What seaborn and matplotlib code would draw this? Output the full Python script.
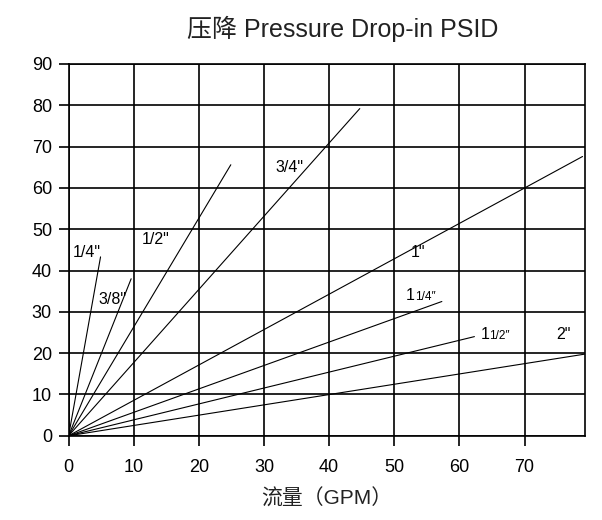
import matplotlib
matplotlib.use("Agg")
import matplotlib.pyplot as plt
import pandas as pd
import seaborn as sns

# pipe sizes and the end point of each pressure-drop line (all start at 0,0)
sizes = ['1/4"', '3/8"', '1/2"', '3/4"', '1"', '1 1/4"', '1 1/2"', '2"']
flow_end = [4.9, 9.6, 24.9, 44.7, 78.9, 57.3, 62.3, 79.4]
drop_end = [43.3, 38.0, 65.6, 79.2, 67.6, 32.5, 24.0, 19.8]

# label positions (flow, drop)
label_main = ['1/4"', '3/8"', '1/2"', '3/4"', '1"', '1', '1', '2"']
label_small = ['', '', '', '', '', '1/4\u2033', '1/2\u2033', '']
label_x = [0.7, 4.6, 11.3, 31.8, 52.6, 51.8, 63.2, 74.9]
label_y = [43.3, 31.8, 46.3, 63.8, 43.2, 32.8, 23.5, 23.5]

xticks = [0, 10, 20, 30, 40, 50, 60, 70]
yticks = [0, 10, 20, 30, 40, 50, 60, 70, 80, 90]

rows = []
for s, fx, fy in zip(sizes, flow_end, drop_end):
    rows.append({"size": s, "flow": 0.0, "drop": 0.0})
    rows.append({"size": s, "flow": fx, "drop": fy})
df = pd.DataFrame(rows)

sns.set_theme(style="white")
plt.rcParams['font.family'] = ['Liberation Sans', 'Noto Sans CJK SC', 'DejaVu Sans']

fig = plt.figure(figsize=(6.02, 5.2), dpi=100)
ax = fig.add_axes([0.114, 0.162, 0.858, 0.715])

sns.lineplot(data=df, x="flow", y="drop", hue="size", palette=["black"] * len(sizes),
             linewidth=0.8, legend=False, ax=ax, sort=False)

ax.set_xlim(0, 79.3)
ax.set_ylim(0, 90)
ax.set_xticks(xticks)
ax.set_yticks(yticks)
ax.grid(True, color="black", linewidth=1.2)
ax.set_axisbelow(True)
for sp in ax.spines.values():
    sp.set_color("black")
    sp.set_linewidth(1.2)
ax.tick_params(axis="both", direction="out", length=7, width=1.2, color="black",
               labelsize=13, labelcolor="black", bottom=True, left=True)
ax.tick_params(axis="x", pad=10)
ax.tick_params(axis="y", pad=5)

ax.set_xlabel("流量（GPM）", fontsize=15, color="#222222", labelpad=9)
ax.set_ylabel("")

for m, sm, lx, ly in zip(label_main, label_small, label_x, label_y):
    ax.text(lx, ly, m, fontsize=11.5, color="black", ha="left", va="baseline")
    if sm:
        ax.annotate(sm, xy=(lx, ly), xytext=(6.5, 0), textcoords="offset points",
                    fontsize=8.5, color="black", ha="left", va="baseline")

fig.text(0.57, 0.944, "压降 Pressure Drop-in PSID", fontsize=18, color="#222222",
         ha="center", va="center")

fig.savefig("out.png", dpi=100)
